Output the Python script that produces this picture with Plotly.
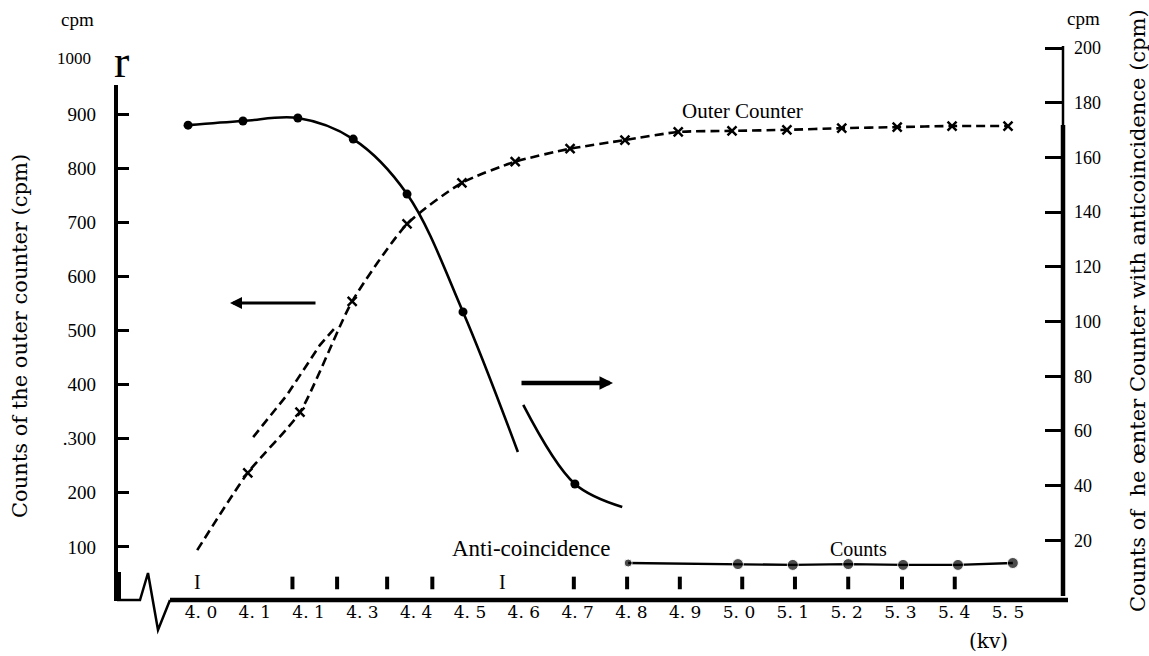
import plotly.graph_objects as go

# ---------------- data ----------------
kv_tick_vals = [4.0, 4.1, 4.2, 4.3, 4.4, 4.5, 4.6, 4.7, 4.8, 4.9, 5.0, 5.1, 5.2, 5.3, 5.4, 5.5]
kv_tick_text = ["4. 0", "4. 1", "4. 1", "4. 3", "4. 4", "4. 5", "4. 6", "4. 7",
                "4. 8", "4. 9", "5. 0", "5. 1", "5. 2", "5. 3", "5. 4", "5. 5"]

left_tick_vals = [100, 200, 300, 400, 500, 600, 700, 800, 900]
left_tick_text = ["100", "200", ".300", "400", "500", "600", "700", "800", "900"]
right_tick_vals = [20, 40, 60, 80, 100, 120, 140, 160, 180, 200]
right_tick_text = ["20", "40", "60", "80", "100", "120", "140", "160", "180", "200"]

# Outer counter (left axis, dashed, x markers); first point is the start of the line
outer_kv = [3.993, 4.087, 4.184, 4.281, 4.383, 4.485, 4.584, 4.686, 4.788,
            4.887, 4.987, 5.089, 5.191, 5.294, 5.396, 5.500]
outer_cpm = [94, 237, 349, 554, 697, 773, 812, 836, 852,
             867, 869, 871, 874, 876, 878, 878]
# displaced (double-printed) piece of the dashed curve
ghost_kv = [4.097, 4.160, 4.221, 4.249]
ghost_cpm = [303, 381, 473, 505]

# Outer counter with anticoincidence (right axis, solid, dots)
anti_kv_a = [3.976, 4.078, 4.180, 4.283, 4.383, 4.487, 4.589]
anti_cpm_a = [171.8, 173.3, 174.4, 166.7, 146.6, 103.5, 52.3]
anti_kv_b = [4.599, 4.695, 4.783]
anti_cpm_b = [69.5, 40.6, 32.2]
anti_dot_kv = [3.976, 4.078, 4.180, 4.283, 4.383, 4.487, 4.695]
anti_dot_cpm = [171.8, 173.3, 174.4, 166.7, 146.6, 103.5, 40.6]

# Anti-coincidence counts (right axis)
counts_kv = [4.794, 4.998, 5.100, 5.203, 5.305, 5.407, 5.509]
counts_cpm = [11.7, 11.3, 11.0, 11.3, 11.0, 11.0, 11.7]
counts_size = [8, 11, 11, 11, 11, 11, 11]

# small error marks above the axis
mark_kv = [4.170, 4.253, 4.346, 4.430, 4.693, 4.792, 4.890, 5.006, 5.104, 5.203, 5.303, 5.401]
mark_cpm = [4.4] * len(mark_kv)
big_mark_kv = [3.993, 4.561]

# ---------------- layout helpers (pixel -> paper) ----------------
ML, MR, MT, MB = 117, 86, 40, 56
W, H = 1149, 656
PW, PH = W - ML - MR, H - MT - MB


def PX(px):
    return (px - ML) / PW


def PY(py):
    return (H - MB - py) / PH


SERIF = "Liberation Serif, serif"
DSERIF = "DejaVu Serif, serif"

fig = go.Figure()

fig.add_trace(go.Scatter(x=outer_kv, y=outer_cpm, mode="lines", yaxis="y",
                         line=dict(color="black", width=2.6, dash="9px,5px",
                                   shape="spline", smoothing=0.6),
                         hoverinfo="skip"))
fig.add_trace(go.Scatter(x=ghost_kv, y=ghost_cpm, mode="lines", yaxis="y",
                         line=dict(color="black", width=2.6, dash="9px,5px"),
                         hoverinfo="skip"))
fig.add_trace(go.Scatter(x=outer_kv[1:], y=outer_cpm[1:], mode="markers", yaxis="y",
                         marker=dict(symbol="x-thin", size=9, color="black",
                                     line=dict(color="black", width=2.5))))

fig.add_trace(go.Scatter(x=anti_kv_a, y=anti_cpm_a, mode="lines", yaxis="y2",
                         line=dict(color="black", width=2.6, shape="spline", smoothing=1.0),
                         hoverinfo="skip"))
fig.add_trace(go.Scatter(x=anti_kv_b, y=anti_cpm_b, mode="lines", yaxis="y2",
                         line=dict(color="black", width=2.6, shape="spline", smoothing=1.0),
                         hoverinfo="skip"))
fig.add_trace(go.Scatter(x=anti_dot_kv, y=anti_dot_cpm, mode="markers", yaxis="y2",
                         marker=dict(symbol="circle", size=9, color="black")))

fig.add_trace(go.Scatter(x=counts_kv, y=counts_cpm, mode="lines+markers", yaxis="y2",
                         line=dict(color="black", width=2.4),
                         marker=dict(symbol="circle", size=counts_size, color="black")))

fig.add_trace(go.Scatter(x=mark_kv, y=mark_cpm, mode="markers", yaxis="y2",
                         marker=dict(symbol="line-ns", size=9, color="black",
                                     line=dict(color="black", width=4))))

annotations = []


def txt(text, px, py, size, font=SERIF, angle=0, xanchor="center"):
    annotations.append(dict(text=text, x=PX(px), y=PY(py), xref="paper", yref="paper",
                            showarrow=False, xanchor=xanchor, yanchor="middle",
                            textangle=angle, font=dict(family=font, size=size, color="black")))


txt("cpm", 77, 20, 19)
txt("1000", 93, 59, 17, xanchor="right")
txt("r", 121, 62, 46)
txt("cpm", 1083, 19, 19)
txt("Outer Counter", 742, 111, 21)
txt("Anti-coincidence", 531, 548, 23)
txt("Counts", 858, 549, 20)
txt("(kv)", 988, 641, 20, font=DSERIF)
txt("Counts of the outer counter (cpm)", 20, 336, 21, font=DSERIF, angle=-90)
txt("Counts of  he œnter Counter with anticoincidence (cpm)", 1138, 311, 21,
    font=DSERIF, angle=-90)

for kv in big_mark_kv:
    annotations.append(dict(text="I", x=kv, y=4.6, xref="x", yref="y2", showarrow=False,
                            font=dict(family=SERIF, size=20, color="black")))

# arrows
annotations.append(dict(text="", x=PX(230), y=PY(303), xref="paper", yref="paper",
                        ax=87, ay=0, showarrow=True, arrowhead=2, arrowsize=0.8,
                        arrowwidth=3, arrowcolor="black"))
annotations.append(dict(text="", x=PX(613), y=PY(383), xref="paper", yref="paper",
                        ax=-93, ay=0, showarrow=True, arrowhead=2, arrowsize=0.6,
                        arrowwidth=4.5, arrowcolor="black"))

shapes = []


def seg(x0, y0, x1, y1, w):
    shapes.append(dict(type="line", xref="paper", yref="paper",
                       x0=PX(x0), y0=PY(y0), x1=PX(x1), y1=PY(y1),
                       line=dict(color="black", width=w)))


seg(116, 85, 116, 601, 4)      # left axis
seg(119, 572, 119, 601, 4)
seg(170, 600, 1068, 600, 4.5)  # x axis
seg(1063, 46, 1063, 125, 2.5)  # right axis
seg(1063, 125, 1063, 596, 4.5)
path = "M {} {} L {} {} L {} {} L {} {} L {} {}".format(
    PX(117), PY(600), PX(140), PY(600), PX(148), PY(573), PX(158), PY(630), PX(170), PY(600))
shapes.append(dict(type="path", path=path, xref="paper", yref="paper",
                   line=dict(color="black", width=2.5)))

fig.update_layout(
    width=W, height=H, autosize=False,
    margin=dict(l=ML, r=MR, t=MT, b=MB, pad=0),
    paper_bgcolor="white", plot_bgcolor="white",
    showlegend=False,
    xaxis=dict(range=[3.8439, 5.6022], tickvals=kv_tick_vals, ticktext=kv_tick_text,
               showline=False, showgrid=False, zeroline=False, ticks="",
               tickfont=dict(family=DSERIF, size=17, color="black")),
    yaxis=dict(range=[1.85, 1037.0], tickvals=left_tick_vals, ticktext=left_tick_text,
               showline=False, showgrid=False, zeroline=False,
               ticks="inside", ticklen=12, tickwidth=3, tickcolor="black",
               ticklabelstandoff=20,
               tickfont=dict(family=SERIF, size=19, color="black")),
    yaxis2=dict(range=[-1.83, 202.93], tickvals=right_tick_vals, ticktext=right_tick_text,
                overlaying="y", side="right",
                showline=False, showgrid=False, zeroline=False,
                ticks="inside", ticklen=18, tickwidth=3, tickcolor="black",
                ticklabelstandoff=10,
                tickfont=dict(family=SERIF, size=18, color="black")),
    annotations=annotations,
    shapes=shapes,
)

fig.write_html("out.html")
